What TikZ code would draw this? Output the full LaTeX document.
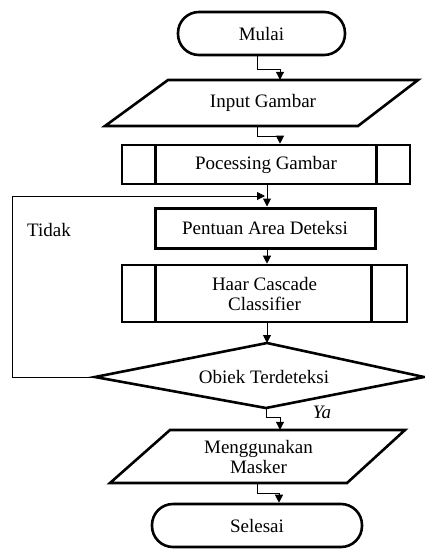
\documentclass[tikz,border=0pt]{standalone}
\usepackage{fontspec}
\setmainfont{Liberation Serif}
\usetikzlibrary{arrows.meta,shapes.geometric,calc}
\begin{document}
\begin{tikzpicture}[x=1pt,y=-1pt,
  every node/.style={font=\rmfamily\fontsize{19}{20}\selectfont, align=center, inner sep=0pt},
  shp/.style={draw, line width=2.6pt, line join=miter},
  term/.style={shp, rectangle, rounded corners=21pt, minimum width=167pt, minimum height=43pt},
  proc/.style={shp, rectangle},
  con/.style={line width=1pt},
  arr/.style={con, -{Triangle[length=8pt,width=8pt]}}
]
\useasboundingbox (0,0) rectangle (425,550);

% nodes
\node[term] (mulai) at (261.5,33.5) {Mulai};
\node[minimum width=190pt, minimum height=46pt] (inp) at (263,103) {Input Gambar};
\draw[shp] (168,80) -- (418,80) -- (358,126) -- (105,126) -- cycle;

\node[proc, minimum width=288pt, minimum height=39pt] (pg) at (266,164.5) {Pocessing Gambar};
\draw[shp] ([xshift=35pt]pg.north west) -- ([xshift=35pt]pg.south west);
\draw[shp] ([xshift=-35pt]pg.north east) -- ([xshift=-35pt]pg.south east);

\node[proc, line width=3pt, minimum width=220pt, minimum height=40pt] (pent) at (265,228) {Pentuan Area Deteksi};

\node[proc, minimum width=285pt, minimum height=57pt] (haar) at (264.5,293.5) {Haar Cascade\\Classifier};
\draw[shp] ([xshift=35pt]haar.north west) -- ([xshift=35pt]haar.south west);
\draw[shp] ([xshift=-37pt]haar.north east) -- ([xshift=-37pt]haar.south east);

\node[minimum width=150pt, minimum height=30pt] (dec) at (264,377) {Obiek Terdeteksi};
\coordinate (dtop) at (267,343);
\coordinate (dbot) at (266,408);
\coordinate (dleft) at (95,377);
\coordinate (dright) at (424,377);
\draw[shp] (dleft) -- (dtop) -- (dright) -- (dbot) -- cycle;

\node[minimum width=177pt, minimum height=53pt] (out) at (258.5,456.5) {Menggunakan\\Masker};
\draw[shp] (170,430) -- (405,430) -- (347,483) -- (110,483) -- cycle;

\node[term, minimum width=210pt] (end) at (257,525.5) {Selesai};

\node (tidak) at (49,230) {Tidak};
\node (ya) at (322,412) {\itshape Ya};

% connectors
\draw[arr] ([xshift=-4.5pt]mulai.south) -- ++(0,13) -| ([xshift=17pt]inp.north);
\draw[arr] ([xshift=-6pt]inp.south) -- ++(0,10) -| ([xshift=17pt]inp.south |- pg.north);
\draw[arr] ([xshift=1pt]pg.south) -- ([xshift=2pt]pent.north);
\draw[arr] ([xshift=2pt]pent.south) -- ([xshift=2.5pt]haar.north);
\draw[arr] ([xshift=2.5pt]haar.south) -- (dtop);
\draw[arr] (dbot) -- ++(0,9) -| ([xshift=21.5pt]out.north);
\draw[arr] ([xshift=-1.5pt]out.south) -- ++(0,10) -| ([xshift=22pt]end.north);
\draw[arr] (dleft) -- (12,377) -- (12,196) -- ([xshift=-1pt]pg.south |- 0,196);
\end{tikzpicture}
\end{document}
